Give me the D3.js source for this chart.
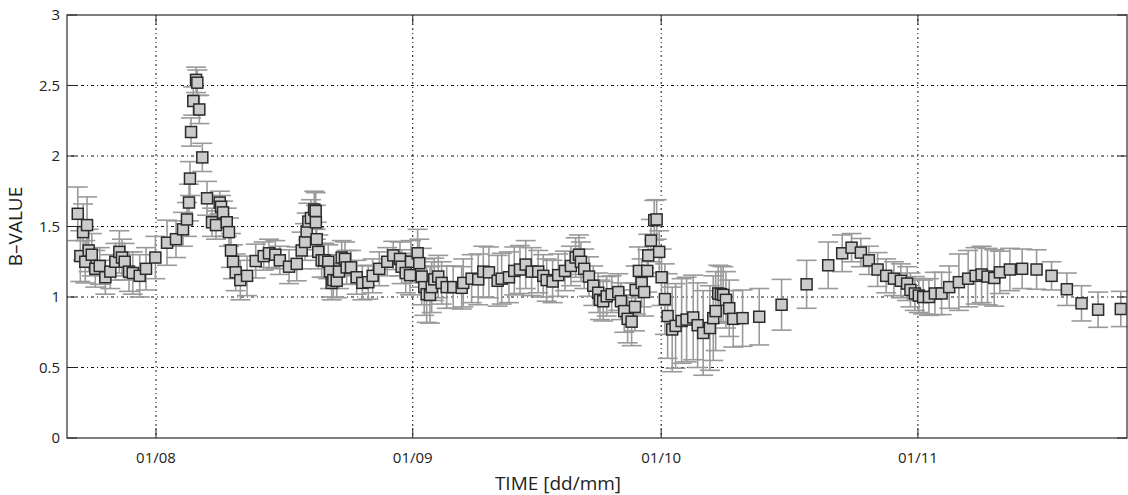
<!DOCTYPE html>
<html><head><meta charset="utf-8">
<script src="https://cdn.jsdelivr.net/npm/d3@7"></script>
<style>body{margin:0;background:#fff;} text{font-family:"Open Sans",sans-serif;fill:#222;}</style>
</head><body><svg id="c" width="1128" height="495"></svg>
<script>
// days relative to 01/08
const days = [-9.45,-9.14,-8.81,-8.54,-8.33,-8.13,-7.76,-7.33,-6.8,-6.12,-5.52,-4.91,-4.43,-4.11,-3.78,-3.26,-2.81,-1.97,-1.21,-0.08,
1.33,2.41,3.26,3.74,3.98,4.1,4.23,4.5,4.83,4.99,5.23,5.59,6.16,6.76,7.24,7.69,7.85,8.09,8.54,8.81,9.05,9.3,9.62,10.18,10.99,12.04,13.0,13.64,14.4,14.95,
16.06,16.99,17.59,17.99,18.19,18.39,18.71,19.11,19.28,19.3,19.4,19.59,20.0,20.32,20.8,21.01,21.21,21.41,21.82,22.09,22.42,22.82,23.02,23.54,24.23,24.91,25.63,26.16,26.96,27.92,28.65,29.46,29.66,30.15,30.67,30.79,
31.59,31.79,32.08,32.39,32.68,33.08,33.29,33.6,34.08,34.49,35.1,35.89,36.91,37.1,38.11,38.91,39.52,40.2,41.25,41.74,42.62,43.26,43.95,44.64,45.36,46.15,46.76,47.17,47.89,48.57,49.38,50.1,50.67,51.07,51.31,51.71,52.28,52.8,53.4,53.61,54.0,54.42,55.02,55.82,56.14,56.54,56.95,57.43,57.83,57.92,58.31,58.64,58.95,59.32,59.44,59.76,60.16,60.45,60.76,
61.05,61.45,61.78,62.33,62.74,63.47,64.07,64.87,65.4,66.07,66.88,67.29,67.58,67.89,68.22,68.49,68.82,69.22,69.7,70.83,72.84,75.54,78.56,81.17,82.86,83.99,85.11,86.08,87.13,88.17,89.1,89.94,90.7,
91.1,91.63,92.11,92.64,93.33,94.05,94.86,95.78,96.95,98.07,98.97,99.69,100.41,101.22,101.9,103.11,104.59,106.33,108.14,109.99,111.76,113.76,116.5];
const bvalue = [1.59,1.29,1.46,1.25,1.51,1.33,1.30,1.20,1.22,1.14,1.18,1.25,1.32,1.28,1.25,1.18,1.17,1.15,1.20,1.28,
1.385,1.41,1.48,1.55,1.67,1.84,2.17,2.39,2.54,2.52,2.33,1.99,1.70,1.53,1.51,1.67,1.64,1.60,1.53,1.46,1.33,1.25,1.175,1.12,1.15,1.255,1.29,1.31,1.30,1.26,
1.215,1.235,1.33,1.39,1.465,1.535,1.56,1.62,1.61,1.53,1.41,1.32,1.26,1.26,1.25,1.18,1.10,1.12,1.115,1.18,1.28,1.27,1.21,1.21,1.14,1.10,1.105,1.15,1.20,1.25,1.295,1.27,1.215,1.17,1.155,1.25,
1.31,1.24,1.145,1.07,1.02,1.015,1.07,1.125,1.145,1.10,1.07,1.07,1.065,1.10,1.13,1.125,1.18,1.175,1.115,1.13,1.14,1.185,1.195,1.23,1.18,1.18,1.15,1.12,1.11,1.155,1.185,1.22,1.28,1.30,1.25,1.20,1.145,1.08,1.03,0.98,0.97,1.005,1.02,1.035,0.97,0.90,0.845,0.825,0.93,1.05,1.185,1.10,1.035,1.185,1.295,1.40,1.545,1.55,1.32,
1.14,0.985,0.865,0.77,0.795,0.83,0.84,0.855,0.80,0.745,0.78,0.85,0.90,1.025,1.02,1.015,0.98,0.92,0.845,0.85,0.86,0.945,1.09,1.225,1.31,1.35,1.315,1.26,1.195,1.15,1.13,1.115,1.095,
1.05,1.025,1.01,1.00,1.00,1.025,1.025,1.07,1.105,1.13,1.15,1.16,1.145,1.135,1.175,1.195,1.20,1.195,1.15,1.055,0.955,0.91,0.915];
const errs = [0.19,0.18,0.2,0.15,0.2,0.15,0.15,0.13,0.13,0.12,0.12,0.13,0.15,0.13,0.13,0.14,0.15,0.15,0.15,0.15,
0.16,0.13,0.12,0.12,0.13,0.12,0.1,0.1,0.09,0.09,0.1,0.1,0.12,0.1,0.1,0.08,0.08,0.08,0.1,0.1,0.12,0.12,0.13,0.14,0.14,0.12,0.1,0.1,0.1,0.1,
0.12,0.12,0.13,0.13,0.13,0.13,0.13,0.13,0.13,0.12,0.12,0.12,0.12,0.12,0.12,0.12,0.12,0.12,0.12,0.12,0.12,0.12,0.12,0.12,0.12,0.12,0.12,0.12,0.12,0.1,0.1,0.12,0.12,0.14,0.14,0.15,
0.17,0.17,0.2,0.2,0.2,0.2,0.18,0.15,0.15,0.15,0.15,0.15,0.15,0.17,0.17,0.18,0.18,0.18,0.18,0.18,0.18,0.17,0.17,0.17,0.17,0.15,0.15,0.15,0.15,0.15,0.14,0.14,0.14,0.14,0.14,0.14,0.14,0.14,0.14,0.14,0.14,0.14,0.13,0.13,0.13,0.15,0.17,0.17,0.17,0.17,0.17,0.17,0.17,0.15,0.15,0.15,0.14,0.14,0.15,
0.2,0.25,0.3,0.3,0.3,0.3,0.3,0.3,0.3,0.3,0.3,0.3,0.28,0.2,0.2,0.2,0.2,0.2,0.2,0.2,0.2,0.18,0.17,0.165,0.13,0.1,0.1,0.1,0.12,0.12,0.12,0.12,0.12,
0.12,0.12,0.12,0.12,0.13,0.15,0.15,0.15,0.2,0.2,0.2,0.2,0.2,0.2,0.15,0.15,0.14,0.14,0.1,0.115,0.125,0.125,0.125];
const yTicks = [0,0.5,1,1.5,2,2.5,3];
const xTickLabels = ["01/08","01/09","01/10","01/11"];
const xTickDates = [new Date(2008,7,1), new Date(2008,8,1), new Date(2008,9,1), new Date(2008,10,1)];

const base = new Date(2008,7,1).getTime();
const data = days.map((d,i)=>({t:new Date(base + d*86400000), v:bvalue[i], e:errs[i]}));

const svg = d3.select("#c");
const L=67, R=1127, T=15, B=438;
const x = d3.scaleTime().domain([new Date(2008,6,21,6), new Date(2008,10,26,6)]).range([L,R]);
const y = d3.scaleLinear().domain([0,3]).range([B,T]);

const g = svg.append("g");
// grid
g.selectAll(".hg").data(yTicks.filter(v=>v>0&&v<3)).join("line")
  .attr("x1",L).attr("x2",R).attr("y1",d=>y(d)).attr("y2",d=>y(d))
  .attr("stroke","#111").attr("stroke-width",1).attr("stroke-dasharray","1,3,3,3");
g.selectAll(".vg").data(xTickDates).join("line")
  .attr("x1",d=>x(d)).attr("x2",d=>x(d)).attr("y1",T).attr("y2",B)
  .attr("stroke","#111").attr("stroke-width",1).attr("stroke-dasharray","1,3,2,3");

// error bars
const eb = g.append("g").attr("stroke","#9a9a9a").attr("stroke-width",1.6);
data.forEach(d=>{
  const cx=x(d.t), y1=y(d.v+d.e), y2=y(d.v-d.e);
  eb.append("line").attr("x1",cx).attr("x2",cx).attr("y1",y1).attr("y2",y2);
  eb.append("line").attr("x1",cx-10).attr("x2",cx+10).attr("y1",y1).attr("y2",y1);
  eb.append("line").attr("x1",cx-10).attr("x2",cx+10).attr("y1",y2).attr("y2",y2);
});
// markers
g.selectAll(".m").data(data).join("rect")
  .attr("x",d=>x(d.t)-5.5).attr("y",d=>y(d.v)-5.5).attr("width",11).attr("height",11)
  .attr("fill","#cbcbcb").attr("stroke","#2a2a2a").attr("stroke-width",1.5);

// axes box
const ax = svg.append("g").attr("stroke","#555").attr("stroke-width",1.5).attr("fill","none");
ax.append("rect").attr("x",L).attr("y",T).attr("width",R-L).attr("height",B-T);
// ticks inside
yTicks.forEach(v=>{
  ax.append("line").attr("x1",L).attr("x2",L+10).attr("y1",y(v)).attr("y2",y(v)).attr("stroke","#222").attr("stroke-width",1);
  ax.append("line").attr("x1",R).attr("x2",R-10).attr("y1",y(v)).attr("y2",y(v)).attr("stroke","#222").attr("stroke-width",1);
});
xTickDates.forEach(dt=>{
  ax.append("line").attr("x1",x(dt)).attr("x2",x(dt)).attr("y1",B).attr("y2",B-10).attr("stroke","#222").attr("stroke-width",1);
  ax.append("line").attr("x1",x(dt)).attr("x2",x(dt)).attr("y1",T).attr("y2",T+10).attr("stroke","#222").attr("stroke-width",1);
});
// tick labels
svg.selectAll(".yl").data(yTicks).join("text")
  .attr("x",L-7).attr("y",d=>y(d)+5).attr("text-anchor","end").attr("font-size",15).text(d=>d3.format("~g")(d));
svg.selectAll(".xl").data(xTickDates).join("text")
  .attr("x",d=>x(d)).attr("y",B+25).attr("text-anchor","middle").attr("font-size",15).text((d,i)=>xTickLabels[i]);
// axis titles
svg.append("text").attr("transform",`translate(22,${(T+B)/2}) rotate(-90)`).attr("text-anchor","middle").attr("font-size",19).text("B–VALUE");
svg.append("text").attr("x",558).attr("y",490).attr("text-anchor","middle").attr("font-size",19).text("TIME [dd/mm]");
</script></body></html>
